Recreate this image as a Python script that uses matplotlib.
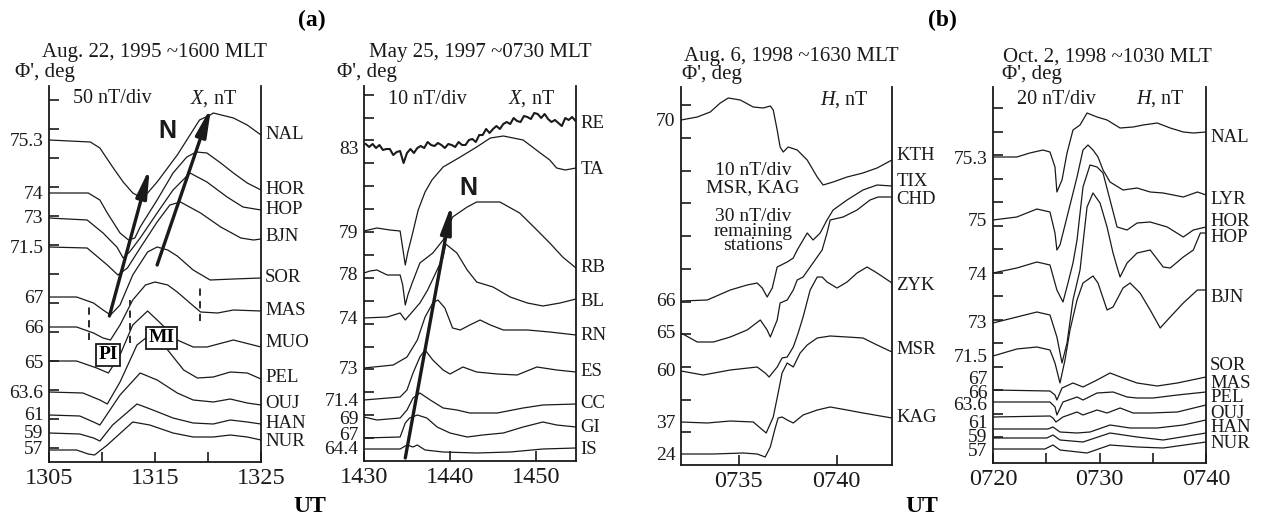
import matplotlib.pyplot as plt
from matplotlib.transforms import blended_transform_factory

plt.rcParams['font.family'] = ['Liberation Serif', 'DejaVu Serif']
plt.rcParams['mathtext.fontset'] = 'custom'
plt.rcParams['mathtext.rm'] = 'Liberation Serif'
plt.rcParams['mathtext.it'] = 'Liberation Serif:italic'

W, H = 1266, 517
INK = '#1a1a1a'

# ---- panel 1: Aug 22 1995, X component (trace levels in plot units, 29 units = 50 nT)
A1_NAMES = ['NAL', 'HOR', 'HOP', 'BJN', 'SOR', 'MAS', 'MUO', 'PEL', 'OUJ', 'HAN', 'NUR']
A1_NAME_Y = [327, 272, 252, 225, 184, 151, 119, 85, 59, 39, 21]
A1_LAT = ['75.3', '74', '73', '71.5', '67', '66', '65', '63.6', '61', '59', '57']
A1_LAT_Y = [322, 269, 245, 215, 165, 135, 100, 70, 48, 30, 15]
A1_TIMES = [
    [1305.0, 1308.9, 1309.8, 1311.0, 1312.0, 1312.9, 1313.6, 1314.3, 1315.2, 1317.1, 1318.3, 1319.2, 1320.2, 1320.5, 1322.4, 1323.7, 1325.0],
    [1305.0, 1308.7, 1309.8, 1310.5, 1311.7, 1312.5, 1313.1, 1313.6, 1315.2, 1316.7, 1318.0, 1318.9, 1319.9, 1321.2, 1322.4, 1323.7, 1325.0],
    [1305.0, 1308.6, 1310.1, 1311.4, 1312.0, 1312.6, 1313.6, 1315.2, 1316.7, 1318.3, 1319.9, 1321.8, 1323.3, 1325.0],
    [1305.0, 1308.6, 1310.5, 1311.5, 1312.4, 1313.6, 1315.2, 1316.4, 1317.4, 1319.3, 1321.2, 1323.1, 1324.3, 1325.0],
    [1305.0, 1307.6, 1309.2, 1310.1, 1310.8, 1311.7, 1312.9, 1314.3, 1315.2, 1316.2, 1317.1, 1318.6, 1320.2, 1322.4, 1325.0],
    [1305.0, 1307.6, 1309.2, 1310.1, 1310.8, 1311.7, 1312.9, 1314.1, 1315.0, 1316.2, 1317.1, 1318.3, 1319.3, 1320.9, 1322.4, 1325.0],
    [1305.0, 1307.6, 1309.5, 1310.6, 1311.7, 1312.9, 1314.3, 1315.5, 1317.1, 1318.6, 1319.9, 1322.4, 1325.0],
    [1305.0, 1308.2, 1309.8, 1310.5, 1311.7, 1313.3, 1314.5, 1316.2, 1317.7, 1319.0, 1320.5, 1322.1, 1323.7, 1325.0],
    [1305.0, 1307.9, 1309.2, 1309.8, 1311.7, 1313.6, 1315.2, 1317.1, 1318.6, 1320.5, 1322.1, 1323.7, 1325.0],
    [1305.0, 1307.9, 1309.2, 1309.8, 1311.0, 1313.3, 1314.8, 1316.7, 1318.6, 1320.5, 1322.1, 1323.7, 1325.0],
    [1305.0, 1307.6, 1308.7, 1309.3, 1310.5, 1312.9, 1314.5, 1316.7, 1318.6, 1320.5, 1322.1, 1323.7, 1325.0],
]
A1_VALUES = [
    [322, 320, 314, 295, 280, 269, 265, 269, 280, 307, 327, 342, 347, 349, 344, 337, 327],
    [269, 269, 262, 249, 229, 222, 224, 235, 262, 289, 305, 310, 309, 299, 289, 279, 272],
    [244, 242, 229, 215, 204, 210, 224, 249, 272, 289, 280, 265, 255, 252],
    [215, 214, 197, 187, 194, 214, 240, 257, 260, 249, 235, 224, 222, 223],
    [165, 165, 159, 152, 147, 157, 187, 210, 215, 212, 206, 192, 182, 183, 184],
    [135, 135, 129, 124, 122, 137, 162, 177, 180, 177, 170, 159, 150, 149, 152, 151],
    [101, 101, 94, 89, 107, 137, 151, 139, 122, 115, 115, 122, 115],
    [70, 69, 62, 58, 80, 117, 127, 112, 92, 84, 85, 90, 89, 83],
    [47, 46, 40, 37, 67, 89, 82, 69, 62, 60, 63, 59, 57],
    [29, 28, 24, 21, 37, 58, 52, 44, 39, 38, 42, 40, 38],
    [12, 12, 8, 7, 17, 40, 37, 29, 25, 25, 27, 25, 22],
]
A1_ARROW_TAIL = [(1310.7, 146), (1315.2, 197)]
A1_ARROW_TIP = [(1314.5, 294), (1320.3, 355)]
A1_DASH_T = [1308.8, 1312.6, 1319.2]
A1_DASH_LO = [122, 119, 141]
A1_DASH_HI = [159, 162, 177]

# ---- panel 2: May 25 1997, X component (23 units = 10 nT)
A2_NAMES = ['RE', 'TA', 'RB', 'BL', 'RN', 'ES', 'CC', 'GI', 'IS']
A2_NAME_Y = [338, 291, 193, 159, 126, 89, 57, 34, 12]
A2_LAT = ['83', '79', '78', '74', '73', '71.4', '69', '67', '64.4']
A2_LAT_Y = [313, 230, 188, 143, 94, 61, 44, 27, 13]
A2_RE_T = [1430.2, 1430.6, 1431.0, 1431.4, 1431.8, 1432.2, 1432.6, 1433.0, 1433.4, 1433.8, 1434.2, 1434.6,
           1435.0, 1435.4, 1435.8, 1436.2, 1436.6, 1437.0, 1437.4, 1437.8, 1438.2, 1438.6, 1439.0, 1439.4,
           1439.8, 1440.2, 1440.6, 1441.0, 1441.4, 1441.8, 1442.2, 1442.6, 1443.0, 1443.4, 1443.8, 1444.2,
           1444.6, 1445.0, 1445.4, 1445.8, 1446.2, 1446.6, 1447.0, 1447.4, 1447.8, 1448.2, 1448.6, 1449.0,
           1449.4, 1449.8, 1450.2, 1450.6, 1451.0, 1451.4, 1451.8, 1452.2, 1452.6, 1453.0, 1453.4, 1453.8,
           1454.2, 1454.6]
A2_RE_V = [317, 314, 317, 313, 316, 311, 312, 312, 306, 309, 310, 298,
           308, 312, 308, 313, 315, 313, 319, 316, 315, 318, 316, 313,
           317, 316, 314, 319, 316, 316, 321, 322, 319, 326, 326, 332,
           328, 332, 335, 332, 337, 339, 337, 343, 340, 339, 345, 344,
           342, 348, 347, 343, 347, 342, 339, 341, 338, 335, 343, 341,
           344, 340]
A2_TIMES = [
    [1430.0, 1431.5, 1433.0, 1434.2, 1434.5, 1434.8, 1435.1, 1435.6, 1436.3, 1437.1, 1437.9, 1439.2, 1441.2, 1443.1, 1444.7, 1446.2, 1448.5, 1450.5, 1451.6, 1452.4, 1453.4, 1454.65],
    [1430.0, 1430.7, 1431.5, 1432.7, 1434.2, 1434.5, 1434.8, 1435.1, 1435.6, 1436.5, 1438.0, 1439.2, 1440.3, 1442.0, 1443.1, 1445.8, 1448.1, 1450.1, 1451.6, 1453.1, 1454.65],
    [1430.0, 1432.7, 1434.2, 1434.8, 1435.3, 1436.5, 1437.4, 1438.5, 1439.2, 1439.5, 1440.8, 1442.0, 1443.1, 1445.0, 1447.0, 1449.0, 1450.8, 1452.8, 1454.65],
    [1430.0, 1433.4, 1435.0, 1436.2, 1437.1, 1438.0, 1438.6, 1439.4, 1440.3, 1441.2, 1442.3, 1443.5, 1444.7, 1446.2, 1449.0, 1451.6, 1454.65],
    [1430.0, 1434.2, 1435.0, 1435.7, 1436.5, 1437.1, 1438.0, 1439.2, 1440.0, 1441.5, 1443.1, 1445.5, 1447.8, 1450.1, 1452.4, 1454.65],
    [1430.0, 1431.5, 1434.2, 1435.0, 1435.7, 1436.5, 1437.7, 1439.2, 1440.8, 1442.3, 1445.5, 1448.5, 1450.8, 1454.65],
    [1430.0, 1434.2, 1434.8, 1435.3, 1436.2, 1437.3, 1438.5, 1440.0, 1442.0, 1443.8, 1446.2, 1448.5, 1450.8, 1452.4, 1454.65],
    [1430.0, 1434.2, 1435.0, 1435.7, 1436.2, 1437.1, 1439.2, 1443.1, 1447.0, 1450.8, 1454.65],
]
A2_VALUES = [
    [230, 233, 231, 230, 213, 196, 209, 226, 251, 269, 281, 294, 304, 314, 323, 325, 321, 308, 301, 293, 291, 293],
    [188, 190, 191, 186, 186, 176, 156, 166, 178, 198, 208, 221, 244, 254, 259, 259, 248, 231, 218, 204, 193],
    [143, 144, 148, 141, 146, 158, 171, 191, 204, 217, 208, 191, 179, 174, 164, 158, 155, 158, 162],
    [93, 96, 104, 121, 144, 158, 161, 153, 133, 131, 136, 141, 136, 131, 131, 129, 126],
    [61, 64, 71, 88, 104, 111, 101, 91, 87, 94, 89, 87, 86, 94, 91, 89],
    [44, 41, 43, 51, 63, 68, 61, 53, 51, 48, 48, 53, 56, 57],
    [23, 24, 38, 43, 46, 43, 34, 28, 24, 26, 28, 34, 39, 36, 34],
    [12, 12, 16, 14, 16, 11, 9, 8, 9, 12, 13],
]
A2_ARROW_TAIL = (1434.8, 3)
A2_ARROW_TIP = (1440.2, 257)

# ---- panel 3: Aug 6 1998, H component (minutes after 0700 UT)
B1_NAMES = ['KTH', 'TIX', 'CHD', 'ZYK', 'MSR', 'KAG']
B1_NAME_Y = [310, 283, 265, 180, 115, 48]
B1_LAT = ['70', '66', '65', '60', '37', '24']
B1_LAT_Y = [345, 165, 133, 96, 43, 11]
B1_TIMES = [
    [32.07, 32.90, 33.56, 34.07, 34.48, 35.09, 35.75, 36.26, 36.62, 36.77, 36.97, 37.12, 37.28, 37.53, 37.99, 38.50, 39.01, 39.31, 39.82, 40.53, 41.34, 42.06, 42.82],
    [32.07, 33.41, 34.58, 35.44, 35.95, 36.21, 36.46, 36.72, 36.97, 37.48, 37.79, 37.99, 38.29, 38.50, 38.80, 39.16, 39.51, 39.82, 40.53, 41.34, 42.06, 42.82],
    [32.07, 32.90, 33.72, 34.58, 35.44, 36.11, 36.46, 36.62, 36.97, 37.12, 37.48, 37.79, 37.99, 38.29, 38.65, 39.01, 39.26, 39.51, 39.67, 40.33, 41.04, 41.70, 42.11, 42.82],
    [32.07, 33.20, 34.58, 35.95, 36.36, 36.56, 36.97, 37.22, 37.48, 37.79, 38.04, 38.29, 38.65, 39.01, 39.26, 39.51, 40.02, 40.53, 41.04, 41.55, 42.06, 42.82],
    [32.07, 33.41, 34.58, 35.75, 36.11, 36.41, 36.77, 37.02, 37.22, 37.48, 37.79, 38.14, 38.50, 39.01, 39.67, 40.53, 41.34, 42.06, 42.82],
    [32.07, 33.72, 35.24, 35.95, 36.36, 36.62, 36.87, 37.02, 37.22, 37.48, 37.79, 38.29, 39.01, 39.67, 40.53, 41.34, 42.82],
]
B1_VALUES = [
    [345, 348, 353, 362, 367, 365, 358, 357, 359, 355, 335, 318, 313, 318, 315, 305, 288, 280, 283, 288, 292, 297, 305],
    [164, 165, 175, 180, 182, 177, 168, 177, 198, 203, 207, 215, 225, 232, 225, 232, 245, 255, 265, 275, 280, 279],
    [132, 123, 123, 128, 135, 145, 135, 128, 145, 162, 165, 175, 185, 188, 198, 208, 215, 232, 245, 248, 255, 265, 268, 268],
    [94, 90, 95, 98, 92, 88, 98, 107, 108, 118, 132, 148, 175, 188, 188, 183, 177, 183, 192, 198, 192, 182],
    [43, 42, 44, 43, 37, 32, 48, 72, 92, 102, 98, 112, 120, 127, 129, 128, 127, 120, 113],
    [11, 11, 12, 11, 8, 18, 37, 47, 48, 45, 42, 50, 55, 58, 55, 52, 47],
]

# ---- panel 4: Oct 2 1998, H component (minutes after 0700 UT)
B2_NAMES = ['NAL', 'LYR', 'HOR', 'HOP', 'BJN', 'SOR', 'MAS', 'PEL', 'OUJ', 'HAN', 'NUR']
B2_NAME_Y = [326, 263, 241, 226, 165, 98, 80, 66, 50, 35, 20]
B2_LAT = ['75.3', '75', '74', '73', '71.5', '67', '66', '63.6', '61', '59', '57']
B2_LAT_Y = [306, 243, 190, 142, 107, 85, 71, 60, 41, 27, 13]
B2_TIMES = [
    [20.0, 22.24, 23.46, 24.69, 25.35, 25.82, 26.0, 26.48, 26.95, 27.51, 28.17, 28.83, 29.77, 30.71, 31.93, 33.16, 34.10, 35.42, 36.64, 37.87, 38.81, 40.0],
    [20.0, 22.24, 24.12, 25.35, 25.82, 26.0, 26.29, 26.95, 27.89, 28.45, 28.92, 29.39, 29.86, 30.33, 30.99, 32.21, 33.53, 34.76, 35.98, 37.87, 39.19, 40.0],
    [20.0, 22.24, 24.12, 25.35, 26.0, 26.57, 27.04, 27.51, 27.89, 28.45, 29.11, 29.77, 30.33, 30.99, 31.65, 32.59, 33.53, 34.76, 36.36, 37.87, 38.81, 40.0],
    [20.0, 22.24, 24.12, 25.35, 26.0, 26.48, 26.95, 27.51, 28.17, 28.83, 29.39, 30.05, 30.71, 31.27, 31.65, 31.93, 32.59, 33.53, 34.76, 35.98, 36.64, 37.87, 38.81, 39.47, 40.0],
    [20.0, 22.24, 24.12, 25.35, 25.82, 26.29, 26.76, 27.23, 27.89, 28.45, 29.39, 29.86, 30.71, 31.27, 32.21, 32.87, 33.81, 34.76, 35.70, 36.64, 37.87, 39.19, 40.0],
    [20.0, 25.35, 25.82, 26.0, 26.48, 27.51, 28.45, 29.77, 30.99, 32.21, 33.53, 35.42, 37.31, 40.0],
    [20.0, 25.35, 25.82, 26.0, 26.57, 27.89, 28.45, 29.77, 31.27, 32.59, 33.53, 35.04, 37.31, 40.0],
    [20.0, 25.35, 25.63, 25.91, 26.57, 27.89, 28.45, 29.77, 30.71, 31.93, 33.16, 34.76, 37.31, 40.0],
    [20.0, 25.16, 25.63, 26.29, 27.89, 29.11, 30.99, 32.87, 35.42, 37.87, 40.0],
    [20.0, 25.06, 25.63, 26.29, 28.45, 30.99, 33.53, 35.98, 40.0],
    [20.0, 24.87, 25.63, 26.29, 28.83, 30.99, 33.53, 35.98, 40.0],
]
B2_VALUES = [
    [306, 306, 310, 313, 311, 296, 271, 283, 310, 333, 338, 350, 346, 343, 335, 336, 338, 340, 335, 331, 330, 331],
    [243, 246, 254, 251, 230, 213, 218, 246, 286, 313, 318, 313, 306, 293, 281, 273, 275, 271, 270, 266, 271, 268],
    [190, 195, 201, 198, 173, 161, 180, 200, 223, 276, 298, 296, 290, 263, 236, 233, 240, 241, 236, 226, 233, 236],
    [140, 146, 151, 148, 126, 100, 120, 163, 193, 256, 270, 260, 236, 210, 196, 186, 200, 210, 213, 196, 195, 206, 213, 230, 230],
    [107, 114, 116, 113, 100, 80, 103, 133, 163, 180, 187, 180, 153, 156, 175, 180, 170, 153, 135, 146, 160, 173, 173],
    [73, 72, 68, 63, 75, 80, 76, 83, 90, 85, 80, 77, 80, 86],
    [61, 61, 56, 48, 61, 66, 63, 70, 71, 66, 65, 65, 68, 71],
    [46, 47, 45, 41, 46, 51, 48, 53, 50, 55, 50, 50, 51, 58],
    [34, 34, 36, 31, 30, 31, 38, 35, 35, 38, 43],
    [25, 25, 28, 23, 21, 30, 26, 23, 30],
    [14, 14, 18, 13, 10, 18, 16, 15, 21],
]


def px_rect(left, top, right, bottom):
    return [left / W, 1 - bottom / H, (right - left) / W, (bottom - top) / H]


def setup_axes(ax, xlim, ylim, xmajor, xlabels, xminor, yminor, lat_y, lat):
    ax.set_xlim(*xlim)
    ax.set_ylim(*ylim)
    ax.spines['top'].set_visible(False)
    for side in ('left', 'right', 'bottom'):
        ax.spines[side].set_linewidth(1.3)
        ax.spines[side].set_color(INK)
    ax.set_xticks(xmajor, xlabels)
    ax.set_xticks(xminor, minor=True)
    ax.set_yticks(lat_y, lat)
    ax.set_yticks(yminor, minor=True)
    ax.tick_params(axis='x', which='both', direction='in', length=7, width=1.2,
                   labelsize=17.5, pad=4, colors=INK)
    ax.tick_params(axis='y', which='major', length=0, labelsize=14, pad=4, colors=INK)
    ax.tick_params(axis='y', which='minor', direction='in', length=7, width=1.2, color=INK)


def draw_traces(ax, times, values, lw=0.9):
    for t, v in zip(times, values):
        ax.plot(t, v, color=INK, lw=lw, solid_joinstyle='round')


def name_labels(ax, names, levels):
    trans = blended_transform_factory(ax.transAxes, ax.transData)
    for name, y in zip(names, levels):
        ax.annotate(name, xy=(1, y), xycoords=trans, xytext=(3, 0),
                    textcoords='offset points', va='center', ha='left',
                    fontsize=13.5, color=INK, annotation_clip=False)


def arrow(ax, tail, tip):
    ax.annotate('', xy=tip, xytext=tail,
                arrowprops=dict(arrowstyle='-|>,head_length=1.7,head_width=0.32',
                                lw=2.4, color=INK, shrinkA=0, shrinkB=0))


fig = plt.figure(figsize=(W / 100, H / 100), dpi=100)

# panel 1
ax1 = fig.add_axes(px_rect(49, 86, 261, 462))
setup_axes(ax1, (1305, 1325), (0, 376), [1305, 1315, 1325], ['1305', '1315', '1325'],
           [1310, 1320], [14 + 29 * k for k in range(13)], A1_LAT_Y, A1_LAT)
draw_traces(ax1, A1_TIMES, A1_VALUES)
name_labels(ax1, A1_NAMES, A1_NAME_Y)
for tail, tip in zip(A1_ARROW_TAIL, A1_ARROW_TIP):
    arrow(ax1, tail, tip)
for t, lo, hi in zip(A1_DASH_T, A1_DASH_LO, A1_DASH_HI):
    ax1.plot([t, t], [lo, hi], color=INK, lw=1.3, ls=(0, (4, 3)))
ax1.text(1311.0, 363, '50 nT/div', fontsize=14.5, ha='center', va='center', color=INK)
ax1.text(1320.5, 363, r'$\it{X}$, nT', fontsize=14.5, ha='center', va='center', color=INK)
ax1.text(1316.2, 331, 'N', fontsize=18, fontweight='bold', family='Liberation Sans',
         ha='center', va='center', color=INK)
box = dict(boxstyle='square,pad=0.12', fc='white', ec=INK, lw=1.3)
ax1.text(1310.6, 107, 'PI', fontsize=14, fontweight='bold', ha='center', va='center', bbox=box)
ax1.text(1315.6, 124, 'MI', fontsize=14, fontweight='bold', ha='center', va='center', bbox=box)

# panel 2
ax2 = fig.add_axes(px_rect(364, 86, 576, 461))
setup_axes(ax2, (1430, 1454.65), (0, 375), [1430, 1440, 1450], ['1430', '1440', '1450'],
           [], [22.9 * k for k in range(1, 17)], A2_LAT_Y, A2_LAT)
ax2.plot(A2_RE_T, A2_RE_V, color=INK, lw=1.5)
draw_traces(ax2, A2_TIMES, A2_VALUES)
name_labels(ax2, A2_NAMES, A2_NAME_Y)
arrow(ax2, A2_ARROW_TAIL, A2_ARROW_TIP)
ax2.text(1437.4, 362, '10 nT/div', fontsize=14.5, ha='center', va='center', color=INK)
ax2.text(1449.5, 362, r'$\it{X}$, nT', fontsize=14.5, ha='center', va='center', color=INK)
ax2.text(1442.1, 273, 'N', fontsize=18, fontweight='bold', family='Liberation Sans',
         ha='center', va='center', color=INK)

# panel 3
ax3 = fig.add_axes(px_rect(681, 87, 892, 465))
setup_axes(ax3, (32.07, 42.82), (0, 378), [35, 40], ['0735', '0740'],
           [], [32.7 * k for k in range(1, 12)], B1_LAT_Y, B1_LAT)
draw_traces(ax3, B1_TIMES, B1_VALUES)
name_labels(ax3, B1_NAMES, B1_NAME_Y)
ax3.text(40.38, 365, r'$\it{H}$, nT', fontsize=14.5, ha='center', va='center', color=INK)
ax3.text(35.75, 286, '10 nT/div\nMSR, KAG', fontsize=14, ha='center', va='center',
         color=INK, linespacing=0.95)
ax3.text(35.75, 234, '30 nT/div\nremaining\nstations', fontsize=14, ha='center', va='center',
         color=INK, linespacing=0.78)

# panel 4
ax4 = fig.add_axes(px_rect(993, 87, 1206, 463))
setup_axes(ax4, (20, 40), (0, 376), [20, 30, 40], ['0720', '0730', '0740'],
           [25, 35], [25.8 + 23.5 * k for k in range(15)], B2_LAT_Y, B2_LAT)
draw_traces(ax4, B2_TIMES, B2_VALUES)
name_labels(ax4, B2_NAMES, B2_NAME_Y)
ax4.text(26.0, 364, '20 nT/div', fontsize=14.5, ha='center', va='center', color=INK)
ax4.text(35.7, 364, r'$\it{H}$, nT', fontsize=14.5, ha='center', va='center', color=INK)

# titles and figure labels
titles = ['Aug. 22, 1995 ~1600 MLT', 'May 25, 1997 ~0730 MLT',
          'Aug. 6, 1998 ~1630 MLT', 'Oct. 2, 1998 ~1030 MLT']
title_x = [155, 480, 791, 1107]
title_y = [52, 52, 57, 57]
phi_x = [15, 337, 682, 1002]
phi_y = [72, 72, 75, 75]
for txt, x, y in zip(titles, title_x, title_y):
    fig.text(x / W, 1 - y / H, txt, fontsize=15, ha='center', va='center', color=INK)
for x, y in zip(phi_x, phi_y):
    fig.text(x / W, 1 - y / H, "\u03a6', deg", fontsize=15, ha='left', va='center', color=INK)
fig.text(312 / W, 1 - 20 / H, '(a)', fontsize=17, fontweight='bold', ha='center', va='center')
fig.text(942 / W, 1 - 20 / H, '(b)', fontsize=17, fontweight='bold', ha='center', va='center')
fig.text(310 / W, 1 - 506 / H, 'UT', fontsize=17, fontweight='bold', ha='center', va='center')
fig.text(922 / W, 1 - 506 / H, 'UT', fontsize=17, fontweight='bold', ha='center', va='center')

fig.savefig('out.png', dpi=100)
